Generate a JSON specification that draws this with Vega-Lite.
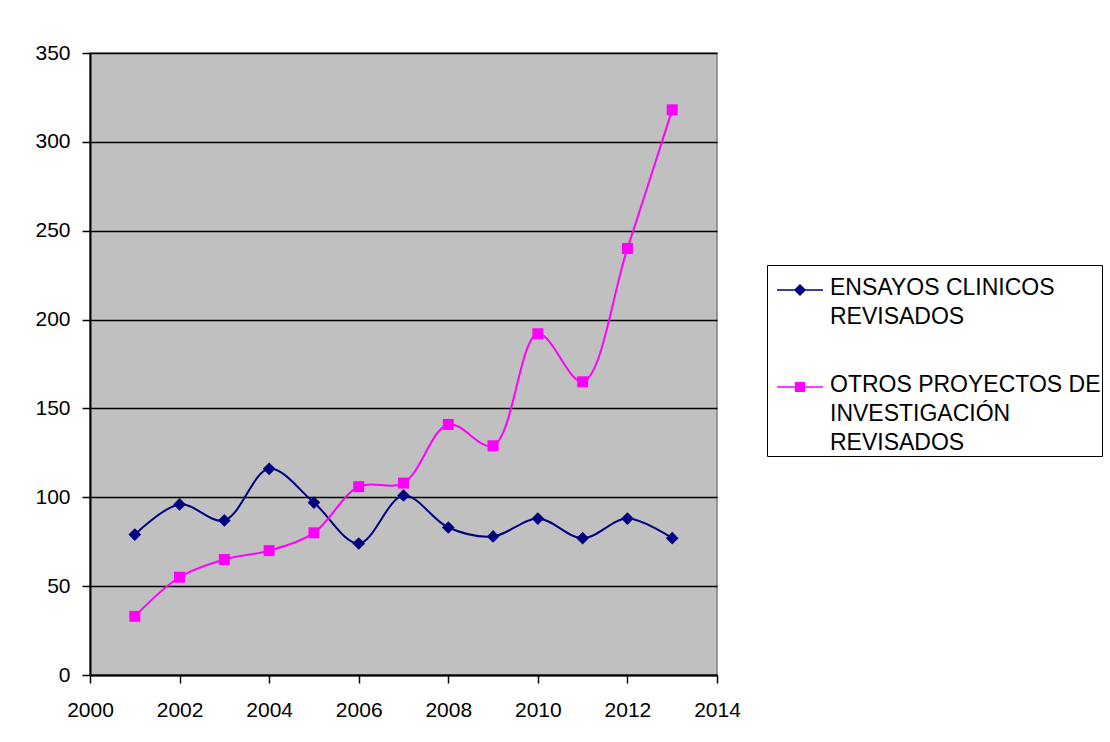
{
  "$schema": "https://vega.github.io/schema/vega-lite/v6.json",
  "autosize": "none",
  "width": 627,
  "height": 622,
  "padding": {"left": 90, "top": 53, "right": 393, "bottom": 67},
  "background": "white",
  "config": {
    "font": "Liberation Sans",
    "view": {"fill": "#c0c0c0", "stroke": "#808080", "strokeWidth": 1.5},
    "axis": {
      "labelFont": "Liberation Sans",
      "labelFontSize": 21,
      "labelColor": "black",
      "domainColor": "black",
      "domainWidth": 2,
      "tickColor": "black",
      "tickWidth": 1.5,
      "tickSize": 8,
      "title": null
    }
  },
  "data": {
    "values": [
      {"year": 2001, "serie": "ENSAYOS CLINICOS REVISADOS", "value": 79},
      {"year": 2002, "serie": "ENSAYOS CLINICOS REVISADOS", "value": 96},
      {"year": 2003, "serie": "ENSAYOS CLINICOS REVISADOS", "value": 87},
      {"year": 2004, "serie": "ENSAYOS CLINICOS REVISADOS", "value": 116},
      {"year": 2005, "serie": "ENSAYOS CLINICOS REVISADOS", "value": 97},
      {"year": 2006, "serie": "ENSAYOS CLINICOS REVISADOS", "value": 74},
      {"year": 2007, "serie": "ENSAYOS CLINICOS REVISADOS", "value": 101},
      {"year": 2008, "serie": "ENSAYOS CLINICOS REVISADOS", "value": 83},
      {"year": 2009, "serie": "ENSAYOS CLINICOS REVISADOS", "value": 78},
      {"year": 2010, "serie": "ENSAYOS CLINICOS REVISADOS", "value": 88},
      {"year": 2011, "serie": "ENSAYOS CLINICOS REVISADOS", "value": 77},
      {"year": 2012, "serie": "ENSAYOS CLINICOS REVISADOS", "value": 88},
      {"year": 2013, "serie": "ENSAYOS CLINICOS REVISADOS", "value": 77},
      {"year": 2001, "serie": "OTROS PROYECTOS DE INVESTIGACIÓN REVISADOS", "value": 33},
      {"year": 2002, "serie": "OTROS PROYECTOS DE INVESTIGACIÓN REVISADOS", "value": 55},
      {"year": 2003, "serie": "OTROS PROYECTOS DE INVESTIGACIÓN REVISADOS", "value": 65},
      {"year": 2004, "serie": "OTROS PROYECTOS DE INVESTIGACIÓN REVISADOS", "value": 70},
      {"year": 2005, "serie": "OTROS PROYECTOS DE INVESTIGACIÓN REVISADOS", "value": 80},
      {"year": 2006, "serie": "OTROS PROYECTOS DE INVESTIGACIÓN REVISADOS", "value": 106},
      {"year": 2007, "serie": "OTROS PROYECTOS DE INVESTIGACIÓN REVISADOS", "value": 108},
      {"year": 2008, "serie": "OTROS PROYECTOS DE INVESTIGACIÓN REVISADOS", "value": 141},
      {"year": 2009, "serie": "OTROS PROYECTOS DE INVESTIGACIÓN REVISADOS", "value": 129},
      {"year": 2010, "serie": "OTROS PROYECTOS DE INVESTIGACIÓN REVISADOS", "value": 192},
      {"year": 2011, "serie": "OTROS PROYECTOS DE INVESTIGACIÓN REVISADOS", "value": 165},
      {"year": 2012, "serie": "OTROS PROYECTOS DE INVESTIGACIÓN REVISADOS", "value": 240},
      {"year": 2013, "serie": "OTROS PROYECTOS DE INVESTIGACIÓN REVISADOS", "value": 318}
    ]
  },
  "encoding": {
    "x": {
      "field": "year", "type": "quantitative",
      "scale": {"domain": [2000, 2014], "nice": false, "zero": false},
      "axis": {"values": [2000, 2002, 2004, 2006, 2008, 2010, 2012, 2014], "format": "d", "grid": false, "labelPadding": 16, "labelFlush": false}
    },
    "y": {
      "field": "value", "type": "quantitative",
      "scale": {"domain": [0, 350], "nice": false},
      "axis": {"values": [0, 50, 100, 150, 200, 250, 300, 350], "grid": true, "gridColor": "black", "gridWidth": 1.4, "labelPadding": 12, "labelFlush": false}
    },
    "color": {
      "field": "serie", "type": "nominal",
      "scale": {"domain": ["ENSAYOS CLINICOS REVISADOS", "OTROS PROYECTOS DE INVESTIGACIÓN REVISADOS"], "range": ["#000080", "#ff00ff"]},
      "legend": {
        "title": null,
        "orient": "none",
        "legendX": 677,
        "legendY": 212,
        "strokeColor": "black",
        "fillColor": "white",
        "padding": 1,
        "symbolOffset": 8,
        "symbolSize": 2116,
        "symbolStrokeWidth": 1.5,
        "labelFont": "Liberation Sans",
        "labelFontSize": 23,
        "labelColor": "black",
        "labelOffset": 6,
        "labelLimit": 400,
        "rowPadding": 34,
        "labelBaseline": "top",
        "labelExpr": "datum.label == 'ENSAYOS CLINICOS REVISADOS' ? ['ENSAYOS CLINICOS', 'REVISADOS'] : ['OTROS PROYECTOS DE', 'INVESTIGACIÓN', 'REVISADOS']",
        "encode": {
          "symbols": {
            "update": {
              "shape": {"signal": "datum.value == 'ENSAYOS CLINICOS REVISADOS' ? 'M-1,0H1M0,-0.22L0.22,0L0,0.22L-0.22,0Z' : 'M-1,0H1M-0.19,-0.19H0.19V0.19H-0.19Z'"},
              "fill": {"signal": "datum.value == 'ENSAYOS CLINICOS REVISADOS' ? '#000080' : '#ff00ff'"},
              "stroke": {"signal": "datum.value == 'ENSAYOS CLINICOS REVISADOS' ? '#000080' : '#ff00ff'"},
              "strokeWidth": {"value": 1.5},
              "opacity": {"value": 1}
            }
          },
          "labels": {
            "update": {
              "lineHeight": {"value": 29},
              "dy": {"value": -13}
            }
          }
        }
      }
    }
  },
  "layer": [
    {
      "mark": {"type": "line", "interpolate": "catmull-rom", "strokeWidth": 2}
    },
    {
      "transform": [{"filter": "datum.serie == 'ENSAYOS CLINICOS REVISADOS'"}],
      "mark": {"type": "point", "filled": true, "opacity": 1, "size": 121, "shape": "M-1.15,0L0,-1.15L1.15,0L0,1.15Z"}
    },
    {
      "transform": [{"filter": "datum.serie != 'ENSAYOS CLINICOS REVISADOS'"}],
      "mark": {"type": "point", "filled": true, "opacity": 1, "size": 121, "shape": "square"}
    }
  ]
}
